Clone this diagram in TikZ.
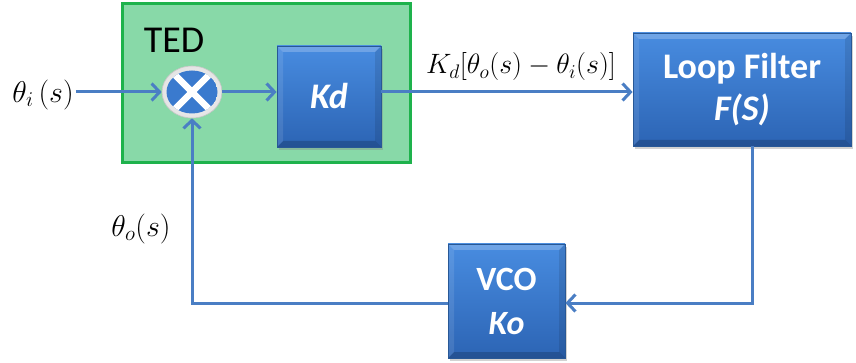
\RequirePackage{fix-cm}
\documentclass[tikz,border=0pt]{standalone}
\usepackage{fontspec}
\newfontfamily\calibri{Carlito}
\usetikzlibrary{arrows.meta,shapes.geometric,shadows}
\definecolor{conncol}{RGB}{74,126,196}
\definecolor{bluetop}{RGB}{72,140,224}
\definecolor{bluebot}{RGB}{44,100,180}
\definecolor{blueedge}{RGB}{40,88,150}
\definecolor{tedfill}{RGB}{136,217,168}
\definecolor{tededge}{RGB}{30,178,76}
\definecolor{multblue}{RGB}{58,122,206}
\begin{document}
\begin{tikzpicture}[x=1pt,y=-1pt,
  conn/.style={draw=conncol, line width=3pt, line join=miter},
  arr/.style={-{Straight Barb[length=8pt,width=17pt]}},
  blockbox/.style={rectangle, draw=blueedge, line width=0.8pt,
    top color=bluetop, bottom color=bluebot, text=white,
    font=\calibri\bfseries\fontsize{36}{42}\selectfont, align=center,
    drop shadow={shadow xshift=2pt, shadow yshift=-3pt, opacity=0.35},
    path picture={
      \fill[white,opacity=0.22] (path picture bounding box.north west) -- (path picture bounding box.north east)
        -- ([shift={(-6pt,-6pt)}]path picture bounding box.north east) -- ([shift={(6pt,-6pt)}]path picture bounding box.north west) -- cycle;
      \fill[black,opacity=0.18] (path picture bounding box.south west) -- (path picture bounding box.south east)
        -- ([shift={(-6pt,6pt)}]path picture bounding box.south east) -- ([shift={(6pt,6pt)}]path picture bounding box.south west) -- cycle;
      \fill[white,opacity=0.10] (path picture bounding box.north west) -- (path picture bounding box.south west)
        -- ([shift={(6pt,6pt)}]path picture bounding box.south west) -- ([shift={(6pt,-6pt)}]path picture bounding box.north west) -- cycle;
      \fill[black,opacity=0.10] (path picture bounding box.north east) -- (path picture bounding box.south east)
        -- ([shift={(-6pt,6pt)}]path picture bounding box.south east) -- ([shift={(-6pt,-6pt)}]path picture bounding box.north east) -- cycle;
    }},
  tedbox/.style={rectangle, draw=tededge, fill=tedfill, line width=3pt},
  multnode/.style={ellipse, draw=gray!45, line width=0.6pt, inner color=white, outer color=gray!22,
    minimum width=60pt, minimum height=52pt,
    path picture={
      \begin{scope}
      \clip (path picture bounding box.center) ellipse [x radius=25.5pt, y radius=21.5pt];
      \fill[multblue] (path picture bounding box.center) ellipse [x radius=25.5pt, y radius=21.5pt];
      \draw[white, line width=6.5pt] ([shift={(-20pt,-20pt)}]path picture bounding box.center) -- ([shift={(20pt,20pt)}]path picture bounding box.center);
      \draw[white, line width=6.5pt] ([shift={(-20pt,20pt)}]path picture bounding box.center) -- ([shift={(20pt,-20pt)}]path picture bounding box.center);
      \end{scope}
    }},
  mathlab/.style={inner sep=2pt, font=\fontsize{30}{34}\selectfont}
]
\useasboundingbox (0,0) rectangle (856,363);
\fill[white] (0,0) rectangle (856,363);

\node[tedbox, minimum width=288pt, minimum height=159pt] (ted) at (266,83.5) {};
\node[font=\calibri\fontsize{38}{44}\selectfont, text=black] (tedlab) at (174,40) {TED};

\node[multnode] (mult) at (192,92) {};
\node[blockbox, minimum width=104pt, minimum height=101pt] (kd) at (329,96.5) {\itshape Kd};
\node[blockbox, minimum width=218pt, minimum height=113pt] (lf) at (742,89.5) {Loop Filter\\\itshape F(S)};
\node[blockbox, minimum width=117pt, minimum height=114pt, font=\calibri\bfseries\fontsize{34}{44}\selectfont] (vco) at (506.5,301) {VCO\\\itshape Ko};

\node[mathlab] (thi) at (43,95) {$\theta_i\,(s)$};
\node[mathlab] (tho) at (141,229) {$\theta_o(s)$};
\node[mathlab, font=\fontsize{28}{32}\selectfont] (kdl) at (521,67) {$K_d[\theta_o(s)-\theta_i(s)]$};

\coordinate (c1) at (752,303);
\coordinate (c2) at (192,303);

\draw[conn, arr] (thi.east |- mult.center) -- (mult.west);
\draw[conn, arr] (mult.east) -- (kd.west |- mult.center);
\draw[conn, arr] (kd.east |- mult.center) -- (lf.west |- mult.center);
\draw[conn, arr] (lf.south -| c1) -- (c1) -- (vco.east |- c1);
\draw[conn, arr] (vco.west |- c1) -- (c2) -- (mult.south);
\end{tikzpicture}
\end{document}
